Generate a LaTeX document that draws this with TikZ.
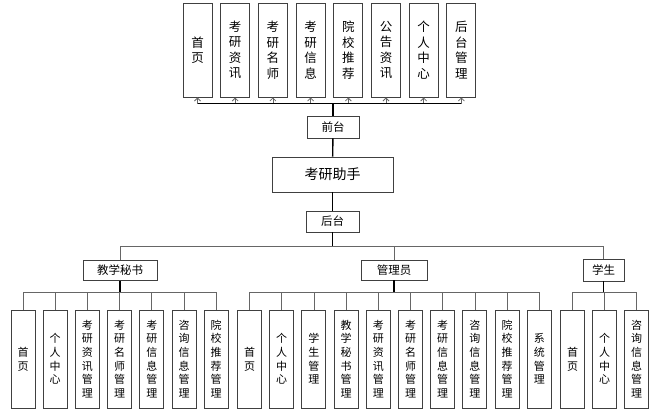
\documentclass[tikz,border=0pt]{standalone}
\usepackage{fontspec}
\setmainfont{Noto Sans CJK SC}
\usetikzlibrary{arrows.meta}

\begin{document}
\begin{tikzpicture}[
		x=1pt, y=-1pt,
		every node/.style={rectangle, draw=black!75, line width=0.9pt, inner sep=0pt, align=center},
		topbox/.style={minimum width=29, minimum height=94, font=\fontsize{12.5}{15.5}\selectfont},
		leafbox/.style={minimum width=24, minimum height=98, font=\fontsize{11}{13.7}\selectfont},
		rolebox/.style={minimum height=20, font=\fontsize{11.5}{14}\selectfont},
		link/.style={draw=black!60, line width=0.8pt},
		trunk/.style={draw=black, line width=1.4pt},
		uparrow/.style={link, -{Straight Barb[length=3pt, width=6pt]}}
	]
  \useasboundingbox (0, 0) rectangle (665, 413);
  % front end pages
  \node (t_home) [topbox] at (197.5, 50) {首\\页};
  \node (t_news) [topbox] at (235.2, 50) {考\\研\\资\\讯};
  \node (t_teacher) [topbox] at (272.9, 50) {考\\研\\名\\师};
  \node (t_info) [topbox] at (310.6, 50) {考\\研\\信\\息};
  \node (t_school) [topbox] at (348.3, 50) {院\\校\\推\\荐};
  \node (t_notice) [topbox] at (386.0, 50) {公\\告\\资\\讯};
  \node (t_user) [topbox] at (423.7, 50) {个\\人\\中\\心};
  \node (t_admin) [topbox] at (461.4, 50) {后\\台\\管\\理};
  \node (front) [minimum width=52, minimum height=22, font=\fontsize{11.5}{14}\selectfont] at (333, 127) {前台};
  \node (app) [minimum width=121, minimum height=35, font=\fontsize{14}{17}\selectfont] at (332.5, 174.5) {考研助手};
  \node (back) [minimum width=53, minimum height=21, font=\fontsize{11.5}{14}\selectfont] at (332.5, 221.5) {后台};
  \coordinate (top_bus) at (333, 103);
  \coordinate (role_bus) at (332.5, 246);
  % roles
  \node (secretary) [rolebox, minimum width=74] at (120, 270.5) {教学秘书};
  \node (manager) [rolebox, minimum width=66] at (394, 270) {管理员};
  \node (student) [rolebox, minimum width=41, minimum height=22] at (603.5, 270) {学生};
  % secretary pages
  \node (s_home) [leafbox] at (23, 359) {首\\页};
  \node (s_user) [leafbox] at (55.2, 359) {个\\人\\中\\心};
  \node (s_news) [leafbox] at (87.4, 359) {考\\研\\资\\讯\\管\\理};
  \node (s_teacher) [leafbox] at (119.6, 359) {考\\研\\名\\师\\管\\理};
  \node (s_info) [leafbox] at (151.8, 359) {考\\研\\信\\息\\管\\理};
  \node (s_consult) [leafbox] at (184, 359) {咨\\询\\信\\息\\管\\理};
  \node (s_school) [leafbox] at (216.2, 359) {院\\校\\推\\荐\\管\\理};
  % manager pages
  \node (m_home) [leafbox] at (249.5, 359) {首\\页};
  \node (m_user) [leafbox] at (281.7, 359) {个\\人\\中\\心};
  \node (m_student) [leafbox] at (313.9, 359) {学\\生\\管\\理};
  \node (m_secretary) [leafbox] at (346.1, 359) {教\\学\\秘\\书\\管\\理};
  \node (m_news) [leafbox] at (378.3, 359) {考\\研\\资\\讯\\管\\理};
  \node (m_teacher) [leafbox] at (410.5, 359) {考\\研\\名\\师\\管\\理};
  \node (m_info) [leafbox] at (442.7, 359) {考\\研\\信\\息\\管\\理};
  \node (m_consult) [leafbox] at (474.9, 359) {咨\\询\\信\\息\\管\\理};
  \node (m_school) [leafbox] at (507.1, 359) {院\\校\\推\\荐\\管\\理};
  \node (m_system) [leafbox] at (539.3, 359) {系\\统\\管\\理};
  % student pages
  \node (u_home) [leafbox] at (572.5, 359) {首\\页};
  \node (u_user) [leafbox] at (604.5, 359) {个\\人\\中\\心};
  \node (u_consult) [leafbox] at (636.5, 359) {咨\\询\\信\\息\\管\\理};
  \coordinate (s_bus) at (120, 292);
  \coordinate (m_bus) at (394, 292);
  \coordinate (u_bus) at (603.5, 292);
  % top links
  \draw [uparrow] (top_bus) -| (t_home.south);
  \draw [uparrow] (top_bus) -| (t_news.south);
  \draw [uparrow] (top_bus) -| (t_teacher.south);
  \draw [uparrow] (top_bus) -| (t_info.south);
  \draw [uparrow] (top_bus) -| (t_school.south);
  \draw [uparrow] (top_bus) -| (t_notice.south);
  \draw [uparrow] (top_bus) -| (t_user.south);
  \draw [uparrow] (top_bus) -| (t_admin.south);
  \draw [draw=black, line width=0.9pt] (t_home.south |- top_bus) -- (t_admin.south |- top_bus);
  \draw [trunk] (front) -- (top_bus);
  \draw [trunk] (front) -- (app);
  \draw [trunk] (app) -- (back);
  \draw [trunk] (back) -- (role_bus);
  % role links
  \draw [link] (role_bus) -| (secretary);
  \draw [link] (role_bus) -| (manager);
  \draw [link] (role_bus) -| (student);
  \draw [link] (s_bus) -| (s_home);
  \draw [link] (s_bus) -| (s_user);
  \draw [link] (s_bus) -| (s_news);
  \draw [link] (s_bus) -| (s_teacher);
  \draw [link] (s_bus) -| (s_info);
  \draw [link] (s_bus) -| (s_consult);
  \draw [link] (s_bus) -| (s_school);
  \draw [link] (m_bus) -| (m_home);
  \draw [link] (m_bus) -| (m_user);
  \draw [link] (m_bus) -| (m_student);
  \draw [link] (m_bus) -| (m_secretary);
  \draw [link] (m_bus) -| (m_news);
  \draw [link] (m_bus) -| (m_teacher);
  \draw [link] (m_bus) -| (m_info);
  \draw [link] (m_bus) -| (m_consult);
  \draw [link] (m_bus) -| (m_school);
  \draw [link] (m_bus) -| (m_system);
  \draw [link] (u_bus) -| (u_home);
  \draw [link] (u_bus) -| (u_user);
  \draw [link] (u_bus) -| (u_consult);
  \draw [trunk] (secretary) -- (s_bus);
  \draw [trunk] (manager) -- (m_bus);
  \draw [trunk] (student) -- (u_bus);
\end{tikzpicture}
\end{document}
